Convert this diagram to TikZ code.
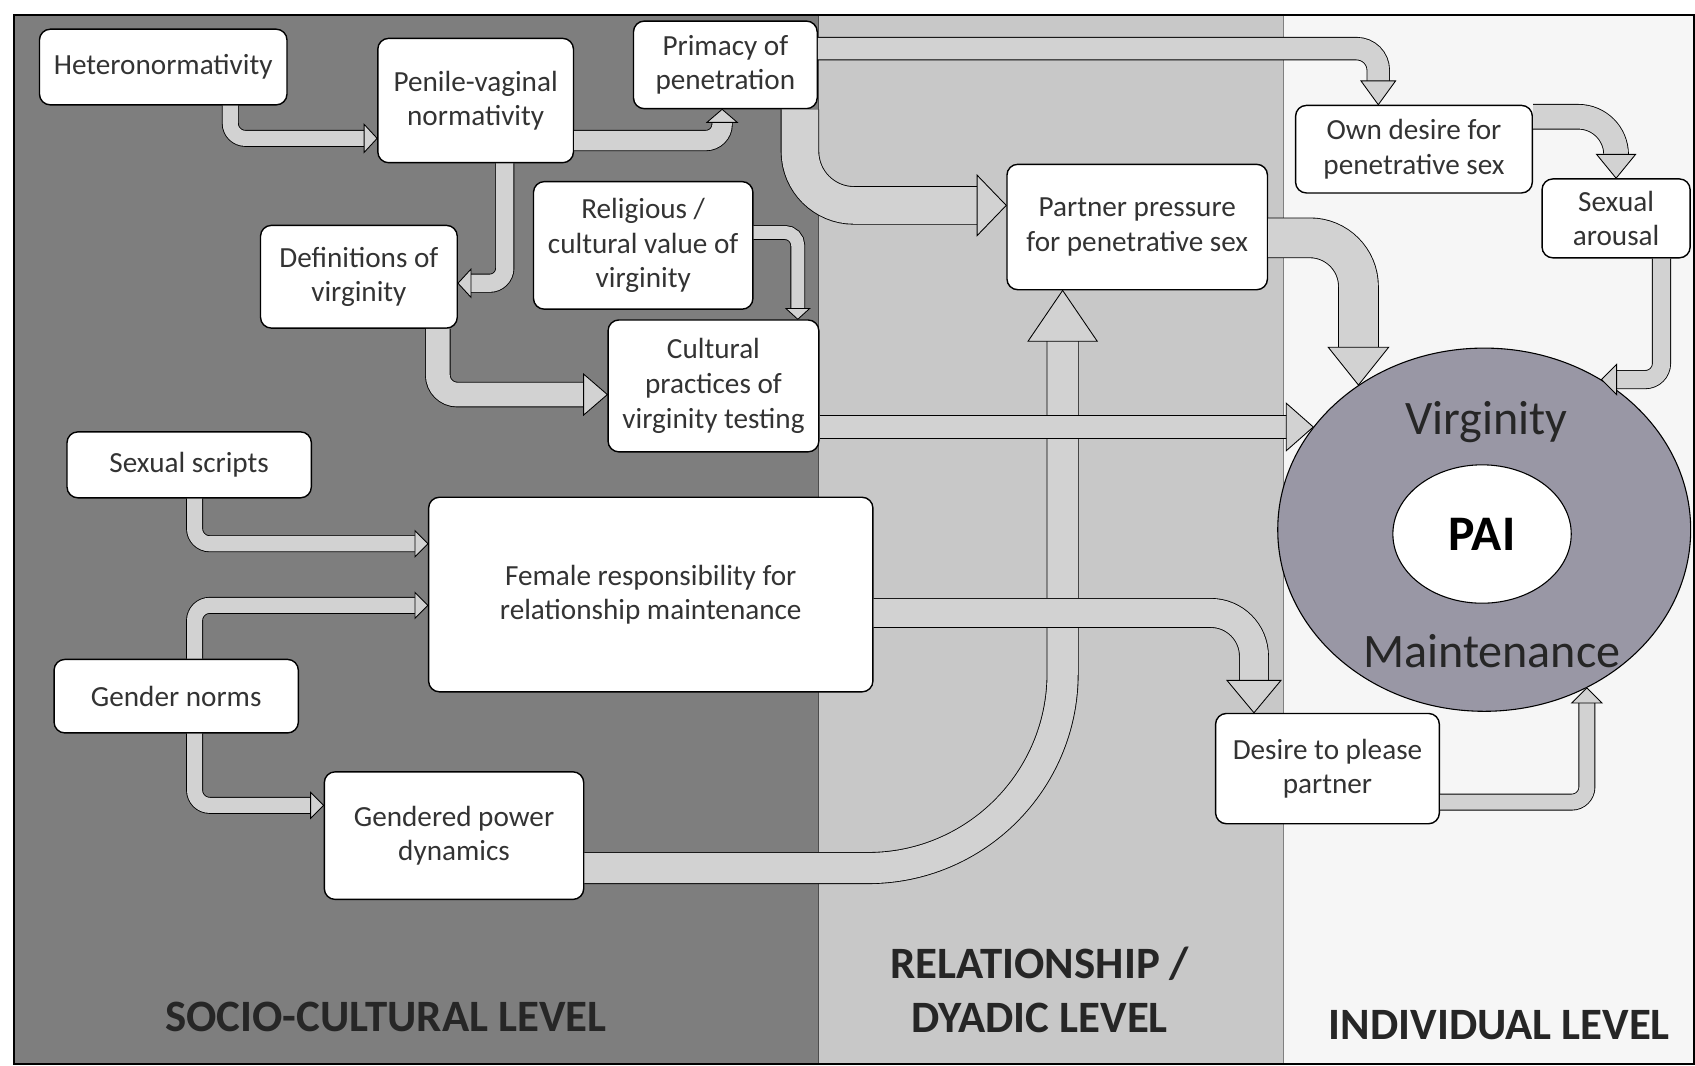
\documentclass[tikz,border=0pt]{standalone}
\usepackage{fontspec}
\setmainfont{Carlito}
\usetikzlibrary{shapes.geometric,decorations.markings}
\definecolor{socio}{RGB}{126,126,126}
\definecolor{dyadic}{RGB}{200,200,200}
\definecolor{indiv}{RGB}{246,246,246}
\definecolor{shaft}{RGB}{210,210,210}
\definecolor{core}{RGB}{153,151,165}
\tikzset{
  box/.style 2 args={draw, fill=white, line width=1.3pt, rounded corners=10pt,
    minimum width=#1pt, minimum height=#2pt, inner sep=2pt, align=center,
    text=black!80, font=\fontsize{27}{32}\selectfont},
  level/.style={align=center, text=black!85, font=\fontsize{41.5}{50}\selectfont\bfseries},
  flow/.style n args={4}{draw=shaft, line width=#1pt, rounded corners=#4pt,
    shorten >=#2pt-0.5pt,
    preaction={draw=black, line width=#1pt+1.6pt},
    postaction={decorate, decoration={markings, mark=at position 1 with {
      \draw[black, fill=shaft, line width=0.8pt, sharp corners, shorten >=0pt]
        (-#2pt,#3pt) -- (0,0) -- (-#2pt,-#3pt) -- cycle;}}}},
}
\begin{document}
\begin{tikzpicture}[x=1pt,y=-1pt]
\useasboundingbox (0,0) rectangle (1568,986);
\fill[white] (0,0) rectangle (1568,986);
\fill[socio] (13,14) rectangle (757,984);
\fill[dyadic] (757,14) rectangle (1187,984);
\fill[indiv] (1187,14) rectangle (1567,984);
\draw[line width=1pt, black!70] (757,14) -- (757,984);
\draw[line width=1pt, black!50] (1187,14) -- (1187,984);
\draw[line width=2pt] (13,14) rectangle (1567,984);

\node[box={229}{70}] (hetero) at (151,62) {Heteronormativity};
\node[box={181}{115}] (penile) at (440,93) {Penile-vaginal\\normativity};
\node[box={170}{81}] (primacy) at (671,60) {Primacy of\\penetration};
\node[box={182}{95}] (definitions) at (332,256) {Definitions of\\virginity};
\node[box={203}{118}] (religious) at (595,227) {Religious /\\cultural value of\\virginity};
\node[box={195}{122}] (practices) at (660,357) {Cultural\\practices of\\virginity testing};
\node[box={226}{61}] (scripts) at (175,430) {Sexual scripts};
\node[box={411}{180}] (female) at (602,550) {Female responsibility for\\relationship maintenance};
\node[box={226}{68}] (gender) at (163,644) {Gender norms};
\node[box={240}{118}] (power) at (420,773) {Gendered power\\dynamics};
\node[box={241}{116}] (partner) at (1052,210) {Partner pressure\\for penetrative sex};
\node[box={219}{81}] (owndesire) at (1308,138) {Own desire for\\penetrative sex};
\node[box={137}{73}] (arousal) at (1495,202) {Sexual\\arousal};
\node[box={207}{102}] (please) at (1228,711) {Desire to please\\partner};

\node[ellipse, draw, line width=1pt, fill=core, minimum width=382pt, minimum height=336pt, inner sep=0pt] (virg) at (1373,490) {};
\node[text=black!85, font=\fontsize{44.5}{52}\selectfont] (virgtext) at (1375,390) {Virginity};
\node[text=black!85, font=\fontsize{44.5}{52}\selectfont] (mainttext) at (1380,602) {Maintenance};
\node[ellipse, draw, line width=1pt, fill=white, minimum width=165pt, minimum height=128pt, inner sep=0pt, font=\fontsize{46}{52}\selectfont\bfseries] (pai) at (1371,494) {PAI};

\draw[flow={14}{12}{13}{14}] (213,0 |- hetero.south) |- (penile.west |- 0,128);
\draw[flow={18}{12}{14}{15}] (penile.east |- 0,130) -| (668,0 |- primacy.south);
\draw[flow={16}{12}{13}{14}] (467,0 |- penile.south) |- (definitions.east |- 0,262);
\draw[flow={22}{22}{19}{18}] (405,0 |- definitions.south) |- (practices.west |- 0,365);
\draw[flow={12}{10}{11}{12}] (religious.east |- 0,215) -| (738,0 |- practices.north);
\draw[flow={20}{22}{16}{20}] (primacy.east |- 0,45) -| (1275,0 |- owndesire.north);
\draw[flow={34}{27}{28}{50}] (740,0 |- primacy.south) |- (partner.west |- 0,190);
\draw[flow={28}{47}{32}{180}] (power.east |- 0,803) -| (983,0 |- partner.south);
\draw[flow={20}{25}{22}{1}] (practices.east |- virg.149) -- (virg.149);
\draw[flow={14}{12}{12}{14}] (180,0 |- scripts.south) |- (female.west |- 0,503);
\draw[flow={14}{12}{12}{14}] (180,0 |- gender.north) |- (female.west |- 0,560);
\draw[flow={14}{12}{12}{14}] (180,0 |- gender.south) |- (power.west |- 0,745);
\draw[flow={26}{30}{25}{40}] (female.east |- 0,567) -| (1160,0 |- please.north);
\draw[flow={36}{35}{28}{45}] (partner.east |- 0,220) -| (virg.131);
\draw[flow={22}{22}{18}{35}] (owndesire.east |- 0,108) -| (1495,0 |- arousal.north);
\draw[flow={16}{14}{14}{15}] (1537,0 |- arousal.south) |- (virg.52);
\draw[flow={14}{14}{14}{14}] (please.east |- 0,742) -| (virg.303);

\node[level] (sociolabel) at (357,941) {SOCIO-CULTURAL LEVEL};
\node[level] (dyadiclabel) at (962,916) {RELATIONSHIP /\\DYADIC LEVEL};
\node[level] (indivlabel) at (1387,948) {INDIVIDUAL LEVEL};
\end{tikzpicture}
\end{document}
